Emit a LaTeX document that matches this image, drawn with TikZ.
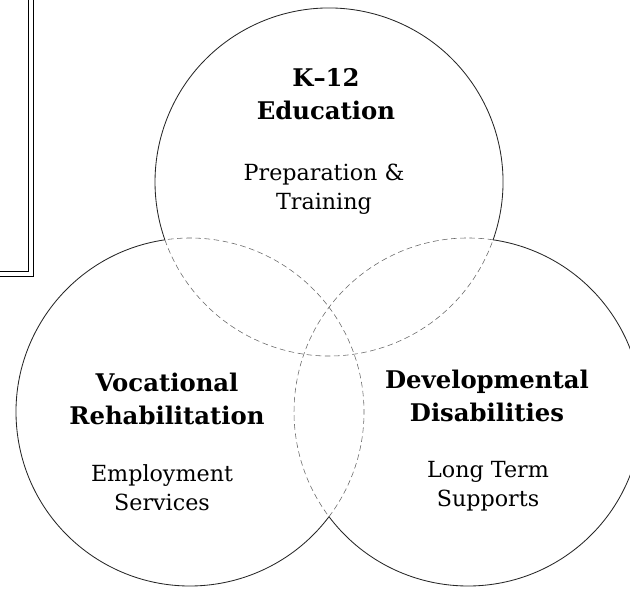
\documentclass[tikz,border=0pt]{standalone}
\usepackage{fontspec}
\setmainfont{DejaVu Serif}
\usepackage{tikz}

\tikzset{
  outline/.style   = {line width=0.6pt, black!85},
  inner arc/.style = {line width=0.4pt, black!60, dash pattern=on 4pt off 2.5pt},
  title/.style     = {font=\fontsize{17.3}{23.4}\selectfont\bfseries, align=center},
  subtitle/.style  = {font=\fontsize{15.8}{20.5}\selectfont, align=center}
}

\begin{document}
\begin{tikzpicture}[x=0.025cm, y=0.025cm]
      \useasboundingbox (0,0) rectangle (630,589);
      \clip (0,0) rectangle (630,589);
      \coordinate (T) at (329,407);
      \coordinate (L) at (190,177);
      \coordinate (R) at (468,177);
      % each circle: solid on the outside, dashed where it lies in another one
      \foreach \c/\a/\b/\d in {T/-19.4/199.4/340.6, L/98.3/323/458.3, R/-143/81.7/217} {
        \draw[outline]   (\c) ++(\a:174) arc[start angle=\a, end angle=\b, radius=174];
        \draw[inner arc] (\c) ++(\b:174) arc[start angle=\b, end angle=\d, radius=174];
      }
      \draw[line width=0.7pt, double, double distance=2.2pt] (-10,600) rectangle (31,315);
      \node[title]    (k12)  at (326,495) {K--12\\Education};
      \node[subtitle] (prep) at (324,400) {Preparation \&\\Training};
      \node[title]    (voc)  at (167,190) {Vocational\\Rehabilitation};
      \node[subtitle] (emp)  at (162,101) {Employment\\Services};
      \node[title]    (dev)  at (487,193) {Developmental\\Disabilities};
      \node[subtitle] (lts)  at (488,103) {Long Term\\Supports};
    \end{tikzpicture}
\end{document}
